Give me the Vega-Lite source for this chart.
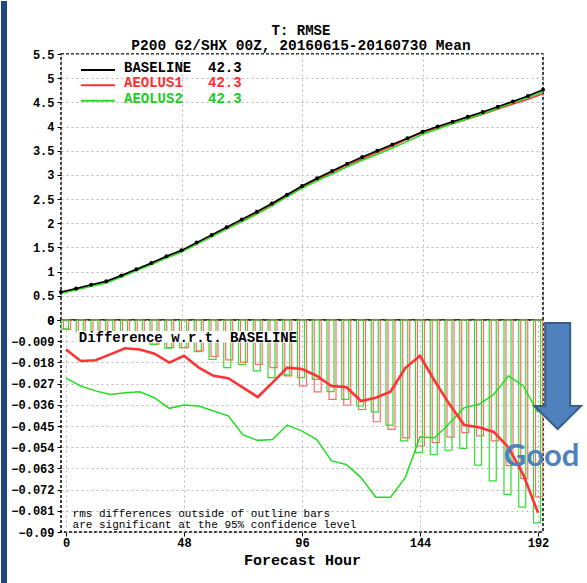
{
  "$schema": "https://vega.github.io/schema/vega-lite/v6.json",
  "padding": 0,
  "background": "white",
  "spacing": 0,
  "bounds": "flush",
  "config": {
    "font": "Liberation Mono",
    "view": {"stroke": "black", "strokeDash": [3, 2], "strokeWidth": 1.5},
    "axis": {
      "labelFont": "Liberation Mono",
      "labelFontWeight": "bold",
      "labelFontSize": 12,
      "labelColor": "black",
      "labelOverlap": false,
      "domain": false,
      "tickColor": "black",
      "tickSize": 4,
      "labelPadding": 3,
      "gridColor": "#b8b8b8",
      "gridDash": [2, 3],
      "gridWidth": 1,
      "titleFont": "Liberation Mono",
      "titleFontWeight": "bold",
      "titleColor": "black"
    }
  },
  "datasets": {
    "rmse": [
      {"hour": 0, "BASELINE": 0.580, "AEOLUS1": 0.568, "AEOLUS2": 0.555, "d1": -0.0125, "d2": -0.0247, "s1": -0.0040, "s2": -0.0038},
      {"hour": 6, "BASELINE": 0.650, "AEOLUS1": 0.633, "AEOLUS2": 0.622, "d1": -0.0174, "d2": -0.0280, "s1": -0.0050, "s2": -0.0051},
      {"hour": 12, "BASELINE": 0.730, "AEOLUS1": 0.713, "AEOLUS2": 0.700, "d1": -0.0171, "d2": -0.0301, "s1": -0.0057, "s2": -0.0055},
      {"hour": 18, "BASELINE": 0.800, "AEOLUS1": 0.785, "AEOLUS2": 0.768, "d1": -0.0146, "d2": -0.0316, "s1": -0.0051, "s2": -0.0050},
      {"hour": 24, "BASELINE": 0.920, "AEOLUS1": 0.908, "AEOLUS2": 0.889, "d1": -0.0120, "d2": -0.0309, "s1": -0.0061, "s2": -0.0061},
      {"hour": 30, "BASELINE": 1.050, "AEOLUS1": 1.038, "AEOLUS2": 1.020, "d1": -0.0125, "d2": -0.0305, "s1": -0.0066, "s2": -0.0068},
      {"hour": 36, "BASELINE": 1.180, "AEOLUS1": 1.166, "AEOLUS2": 1.147, "d1": -0.0143, "d2": -0.0330, "s1": -0.0102, "s2": -0.0105},
      {"hour": 42, "BASELINE": 1.320, "AEOLUS1": 1.302, "AEOLUS2": 1.283, "d1": -0.0181, "d2": -0.0375, "s1": -0.0117, "s2": -0.0119},
      {"hour": 48, "BASELINE": 1.440, "AEOLUS1": 1.425, "AEOLUS2": 1.404, "d1": -0.0152, "d2": -0.0361, "s1": -0.0117, "s2": -0.0117},
      {"hour": 54, "BASELINE": 1.600, "AEOLUS1": 1.580, "AEOLUS2": 1.564, "d1": -0.0202, "d2": -0.0365, "s1": -0.0131, "s2": -0.0134},
      {"hour": 60, "BASELINE": 1.760, "AEOLUS1": 1.736, "AEOLUS2": 1.721, "d1": -0.0237, "d2": -0.0386, "s1": -0.0155, "s2": -0.0167},
      {"hour": 66, "BASELINE": 1.920, "AEOLUS1": 1.895, "AEOLUS2": 1.879, "d1": -0.0247, "d2": -0.0407, "s1": -0.0169, "s2": -0.0202},
      {"hour": 72, "BASELINE": 2.080, "AEOLUS1": 2.051, "AEOLUS2": 2.031, "d1": -0.0287, "d2": -0.0488, "s1": -0.0179, "s2": -0.0188},
      {"hour": 78, "BASELINE": 2.240, "AEOLUS1": 2.207, "AEOLUS2": 2.189, "d1": -0.0327, "d2": -0.0511, "s1": -0.0189, "s2": -0.0216},
      {"hour": 84, "BASELINE": 2.410, "AEOLUS1": 2.383, "AEOLUS2": 2.359, "d1": -0.0266, "d2": -0.0507, "s1": -0.0202, "s2": -0.0245},
      {"hour": 90, "BASELINE": 2.590, "AEOLUS1": 2.570, "AEOLUS2": 2.545, "d1": -0.0202, "d2": -0.0446, "s1": -0.0237, "s2": -0.0233},
      {"hour": 96, "BASELINE": 2.770, "AEOLUS1": 2.749, "AEOLUS2": 2.723, "d1": -0.0208, "d2": -0.0472, "s1": -0.0280, "s2": -0.0245},
      {"hour": 102, "BASELINE": 2.930, "AEOLUS1": 2.906, "AEOLUS2": 2.879, "d1": -0.0237, "d2": -0.0508, "s1": -0.0305, "s2": -0.0252},
      {"hour": 108, "BASELINE": 3.080, "AEOLUS1": 3.052, "AEOLUS2": 3.020, "d1": -0.0280, "d2": -0.0598, "s1": -0.0337, "s2": -0.0304},
      {"hour": 114, "BASELINE": 3.230, "AEOLUS1": 3.202, "AEOLUS2": 3.169, "d1": -0.0285, "d2": -0.0613, "s1": -0.0362, "s2": -0.0337},
      {"hour": 120, "BASELINE": 3.370, "AEOLUS1": 3.336, "AEOLUS2": 3.303, "d1": -0.0344, "d2": -0.0669, "s1": -0.0380, "s2": -0.0365},
      {"hour": 126, "BASELINE": 3.500, "AEOLUS1": 3.467, "AEOLUS2": 3.425, "d1": -0.0330, "d2": -0.0752, "s1": -0.0432, "s2": -0.0390},
      {"hour": 132, "BASELINE": 3.630, "AEOLUS1": 3.600, "AEOLUS2": 3.555, "d1": -0.0304, "d2": -0.0752, "s1": -0.0464, "s2": -0.0446},
      {"hour": 138, "BASELINE": 3.760, "AEOLUS1": 3.740, "AEOLUS2": 3.693, "d1": -0.0204, "d2": -0.0669, "s1": -0.0500, "s2": -0.0513},
      {"hour": 144, "BASELINE": 3.890, "AEOLUS1": 3.875, "AEOLUS2": 3.840, "d1": -0.0152, "d2": -0.0497, "s1": -0.0535, "s2": -0.0563},
      {"hour": 150, "BASELINE": 4.000, "AEOLUS1": 3.974, "AEOLUS2": 3.950, "d1": -0.0259, "d2": -0.0500, "s1": -0.0521, "s2": -0.0571},
      {"hour": 156, "BASELINE": 4.100, "AEOLUS1": 4.064, "AEOLUS2": 4.056, "d1": -0.0358, "d2": -0.0438, "s1": -0.0497, "s2": -0.0553},
      {"hour": 162, "BASELINE": 4.200, "AEOLUS1": 4.155, "AEOLUS2": 4.163, "d1": -0.0446, "d2": -0.0372, "s1": -0.0478, "s2": -0.0545},
      {"hour": 168, "BASELINE": 4.300, "AEOLUS1": 4.255, "AEOLUS2": 4.264, "d1": -0.0455, "d2": -0.0358, "s1": -0.0492, "s2": -0.0616},
      {"hour": 174, "BASELINE": 4.410, "AEOLUS1": 4.363, "AEOLUS2": 4.378, "d1": -0.0475, "d2": -0.0316, "s1": -0.0513, "s2": -0.0683},
      {"hour": 180, "BASELINE": 4.520, "AEOLUS1": 4.466, "AEOLUS2": 4.496, "d1": -0.0541, "d2": -0.0237, "s1": -0.0618, "s2": -0.0740},
      {"hour": 186, "BASELINE": 4.630, "AEOLUS1": 4.564, "AEOLUS2": 4.602, "d1": -0.0656, "d2": -0.0280, "s1": -0.0673, "s2": -0.0794},
      {"hour": 192, "BASELINE": 4.760, "AEOLUS1": 4.678, "AEOLUS2": 4.721, "d1": -0.0818, "d2": -0.0393, "s1": -0.0751, "s2": -0.0861}
    ]
  },
  "vconcat": [
    {
      "width": 482,
      "height": 266,
      "data": {"name": "rmse"},
      "layer": [
        {
          "mark": {"type": "line", "color": "#ff3030", "strokeWidth": 1.6},
          "encoding": {
            "x": {"field": "hour", "type": "quantitative", "title": null,
                  "scale": {"domain": [0, 192], "nice": false, "zero": false},
                  "axis": {"values": [0, 48, 96, 144, 192], "labels": false, "ticks": false, "grid": true, "tickCount": 20}},
            "y": {"field": "AEOLUS1", "type": "quantitative", "title": null,
                  "scale": {"domain": [0, 5.5], "nice": false},
                  "axis": {"values": [0, 0.5, 1, 1.5, 2, 2.5, 3, 3.5, 4, 4.5, 5, 5.5], "tickCount": 30, "format": "~g", "grid": true, "labelOverlap": false, "labelBound": false, "labelFlush": false}}
          }
        },
        {
          "mark": {"type": "line", "color": "#22dd22", "strokeWidth": 1.6},
          "encoding": {
            "x": {"field": "hour", "type": "quantitative", "title": null},
            "y": {"field": "AEOLUS2", "type": "quantitative", "title": null}
          }
        },
        {
          "mark": {"type": "line", "color": "black", "strokeWidth": 1.6},
          "encoding": {
            "x": {"field": "hour", "type": "quantitative", "title": null},
            "y": {"field": "BASELINE", "type": "quantitative", "title": null}
          }
        },
        {
          "mark": {"type": "point", "filled": true, "color": "black", "size": 16, "opacity": 1},
          "encoding": {
            "x": {"field": "hour", "type": "quantitative", "title": null},
            "y": {"field": "BASELINE", "type": "quantitative", "title": null}
          }
        },
        {
          "data": {"values": [{}]},
          "mark": {"type": "text", "align": "center", "baseline": "alphabetic", "font": "Liberation Mono", "fontWeight": "bold", "fontSize": 14, "color": "black"},
          "encoding": {"x": {"datum": 95.6}, "y": {"datum": 5.883}, "text": {"value": "T: RMSE"}}
        },
        {
          "data": {"values": [{}]},
          "mark": {"type": "text", "align": "center", "baseline": "alphabetic", "font": "Liberation Mono", "fontWeight": "bold", "fontSize": 14.5, "color": "black"},
          "encoding": {"x": {"datum": 95.6}, "y": {"datum": 5.583}, "text": {"value": "P200 G2/SHX 00Z, 20160615-20160730 Mean"}}
        },
        {
          "data": {"values": [{}]},
          "mark": {"type": "rule", "color": "black", "strokeWidth": 2},
          "encoding": {"x": {"datum": 7.97}, "x2": {"datum": 21.5}, "y": {"datum": 5.169}}
        },
        {
          "data": {"values": [{}]},
          "mark": {"type": "rule", "color": "#ff3030", "strokeWidth": 2},
          "encoding": {"x": {"datum": 7.97}, "x2": {"datum": 21.5}, "y": {"datum": 4.853}}
        },
        {
          "data": {"values": [{}]},
          "mark": {"type": "rule", "color": "#22dd22", "strokeWidth": 2},
          "encoding": {"x": {"datum": 7.97}, "x2": {"datum": 21.5}, "y": {"datum": 4.535}}
        },
        {
          "data": {"values": [{}]},
          "mark": {"type": "text", "align": "left", "baseline": "alphabetic", "font": "Liberation Mono", "fontWeight": "bold", "fontSize": 14, "color": "black"},
          "encoding": {"x": {"datum": 25.1}, "y": {"datum": 5.128}, "text": {"value": "BASELINE\u00a0\u00a042.3"}}
        },
        {
          "data": {"values": [{}]},
          "mark": {"type": "text", "align": "left", "baseline": "alphabetic", "font": "Liberation Mono", "fontWeight": "bold", "fontSize": 14, "color": "#ff3030"},
          "encoding": {"x": {"datum": 25.1}, "y": {"datum": 4.818}, "text": {"value": "AEOLUS1\u00a0\u00a0\u00a042.3"}}
        },
        {
          "data": {"values": [{}]},
          "mark": {"type": "text", "align": "left", "baseline": "alphabetic", "font": "Liberation Mono", "fontWeight": "bold", "fontSize": 14, "color": "#22cc22"},
          "encoding": {"x": {"datum": 25.1}, "y": {"datum": 4.493}, "text": {"value": "AEOLUS2\u00a0\u00a0\u00a042.3"}}
        },
        {
          "data": {"values": [{}]},
          "mark": {"type": "rect", "color": "#1F497D"},
          "encoding": {"x": {"datum": -23.9}, "x2": {"datum": -21.5}, "y": {"datum": 6.596}, "y2": {"datum": -5.459}}
        }
      ]
    },
    {
      "width": 482,
      "height": 212,
      "data": {"name": "rmse"},
      "layer": [
        {
          "mark": {"type": "bar", "orient": "vertical", "filled": false, "color": "#ff6a6a", "strokeWidth": 1.2, "width": 7, "xOffset": 1},
          "encoding": {
            "x": {"field": "hour", "type": "quantitative", "title": "Forecast Hour",
                  "scale": {"domain": [0, 192], "nice": false, "zero": false},
                  "axis": {"values": [0, 48, 96, 144, 192], "tickCount": 20, "grid": true, "labelPadding": 1, "titleFontSize": 15, "titlePadding": 4}},
            "y": {"field": "s1", "type": "quantitative", "title": null, "stack": null,
                  "scale": {"domain": [-0.09, 0], "nice": false},
                  "axis": {"values": [0, -0.009, -0.018, -0.027, -0.036, -0.045, -0.054, -0.063, -0.072, -0.081, -0.09], "tickCount": 30, "format": ".3~f", "grid": true, "labelOverlap": false, "labelBound": false, "labelFlush": false}}
          }
        },
        {
          "mark": {"type": "bar", "orient": "vertical", "filled": false, "color": "#33dd33", "strokeWidth": 1.2, "width": 7, "xOffset": -1},
          "encoding": {
            "x": {"field": "hour", "type": "quantitative", "title": "Forecast Hour"},
            "y": {"field": "s2", "type": "quantitative", "title": null, "stack": null}
          }
        },
        {
          "data": {"values": [{}]},
          "mark": {"type": "rect", "color": "white"},
          "encoding": {"x": {"datum": 4.38}, "x2": {"datum": 92.4}, "y": {"datum": -0.00467}, "y2": {"datum": -0.00955}}
        },
        {
          "data": {"values": [{}]},
          "mark": {"type": "text", "align": "left", "baseline": "alphabetic", "font": "Liberation Mono", "fontWeight": "bold", "fontSize": 14, "color": "black"},
          "encoding": {"x": {"datum": 5.18}, "y": {"datum": -0.00934}, "text": {"value": "Difference w.r.t. BASELINE"}}
        },
        {
          "mark": {"type": "line", "color": "#22dd22", "strokeWidth": 1.5},
          "encoding": {
            "x": {"field": "hour", "type": "quantitative", "title": "Forecast Hour"},
            "y": {"field": "d2", "type": "quantitative", "title": null}
          }
        },
        {
          "mark": {"type": "line", "color": "#ff3333", "strokeWidth": 2.6},
          "encoding": {
            "x": {"field": "hour", "type": "quantitative", "title": "Forecast Hour"},
            "y": {"field": "d1", "type": "quantitative", "title": null}
          }
        },
        {
          "data": {"values": [{}]},
          "mark": {"type": "text", "align": "left", "baseline": "alphabetic", "font": "Liberation Mono", "fontSize": 11, "lineHeight": 11, "color": "black"},
          "encoding": {"x": {"datum": 2.67}, "y": {"datum": -0.08363}, "text": {"value": ["rms differences outside of outline bars", "are significant at the 95% confidence level"]}}
        },
        {
          "data": {"values": [{}]},
          "mark": {"type": "point", "shape": "M-0.236,-1L0.236,-1L0.236,0.566L0.44,0.566L0,1L-0.44,0.566L-0.236,0.566Z", "size": 11236, "filled": true, "fill": "#4F81BD", "stroke": "#385D8A", "strokeWidth": 2, "opacity": 1, "fillOpacity": 1, "strokeOpacity": 1},
          "encoding": {"x": {"datum": 200}, "y": {"datum": -0.0238}}
        },
        {
          "data": {"values": [{}]},
          "mark": {"type": "text", "align": "left", "baseline": "alphabetic", "font": "Lato", "fontWeight": "bold", "fontSize": 31, "color": "#4F81BD"},
          "encoding": {"x": {"datum": 178.1}, "y": {"datum": -0.062}, "text": {"value": "Good"}}
        }
      ]
    }
  ]
}
